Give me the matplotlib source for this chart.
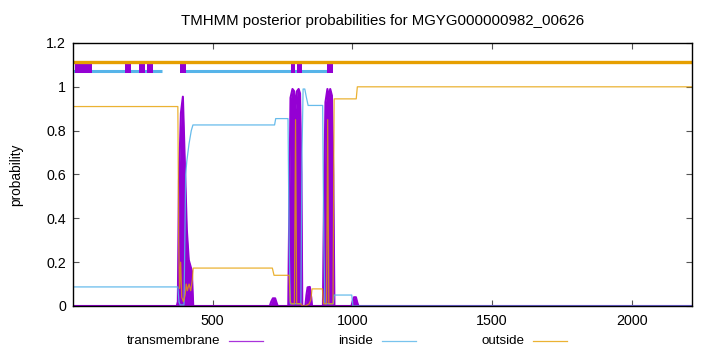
import matplotlib
matplotlib.use("Agg")
import matplotlib.pyplot as plt
from matplotlib.lines import Line2D

plt.rcParams['font.family'] = ['Liberation Sans', 'DejaVu Sans']
plt.rcParams['font.size'] = 9.5

seq_len = 2215

# posterior probabilities (residue, probability)
tm_x = [1, 372, 376, 380, 387, 394, 401, 408, 415, 426, 431,
        705, 710, 716, 724, 729, 733,
        771, 775, 779, 786, 792, 797, 802, 808, 813, 818, 821,
        832, 836, 840, 848, 853, 856,
        895, 899, 904, 911, 916, 921, 927, 932, 936,
        997, 1001, 1006, 1013, 1018, 1022, seq_len]
tm_y = [0, 0, 0.02, 0.57, 0.88, 0.955, 0.65, 0.35, 0.21, 0.16, 0,
        0, 0.02, 0.035, 0.035, 0.015, 0,
        0, 0.5, 0.95, 0.99, 0.98, 0.9, 0.98, 0.99, 0.97, 0.6, 0,
        0, 0.05, 0.085, 0.087, 0.04, 0,
        0, 0.5, 0.93, 0.99, 0.95, 0.99, 0.96, 0.6, 0,
        0, 0.02, 0.04, 0.04, 0.015, 0, 0]

in_x = [1, 376, 380, 384, 398, 401, 404, 408, 416, 424, 430,
        722, 726, 770, 774, 778, 816, 820, 824, 830, 836, 842,
        894, 898, 902, 932, 935, 998, 1002, seq_len]
in_y = [0.087, 0.087, 0.02, 0.005, 0.005, 0.3, 0.6, 0.66, 0.74, 0.8, 0.826,
        0.826, 0.855, 0.855, 0.3, 0.01, 0.01, 0.7, 0.99, 0.99, 0.95, 0.915,
        0.915, 0.3, 0.01, 0.01, 0.05, 0.05, 0.0, 0.0]

out_x = [1, 376, 379, 382, 386, 390, 396, 402, 406, 410, 416, 422, 428, 431,
         714, 720, 774, 778, 782, 793, 797, 801, 816, 822, 832, 846, 852, 856,
         893, 897, 908, 912, 916, 931, 935, 1014, 1018, seq_len]
out_y = [0.91, 0.91, 0.3, 0.08, 0.2, 0.04, 0.02, 0.05, 0.1, 0.07, 0.1, 0.07, 0.12, 0.173,
         0.173, 0.14, 0.14, 0.02, 0.01, 0.01, 0.85, 0.01, 0.01, 0.0, 0.0, 0.01, 0.03, 0.078,
         0.078, 0.01, 0.01, 0.85, 0.01, 0.01, 0.945, 0.945, 1.0, 1.0]

# predicted topology bars on top
tm_segments = [(7, 68), (186, 208), (236, 258), (265, 286), (383, 404),
               (780, 795), (802, 820), (909, 931)]
in_segments = [(1, 319), (401, 909)]
out_segments = [(1, seq_len)]

purple = '#9400d3'
blue = '#56b4e9'
orange = '#e69f00'

fig = plt.figure(figsize=(7.2, 3.52), dpi=100)
ax = fig.add_axes([0.1014, 0.1307, 0.8597, 0.7472])

ax.fill_between(tm_x, 0, tm_y, color=purple, lw=0, zorder=2)
ax.plot(tm_x, tm_y, color=purple, lw=1.5, zorder=2)
ax.plot(in_x, in_y, color=blue, lw=0.9, alpha=0.9, zorder=3)
ax.plot(out_x, out_y, color=orange, lw=0.9, alpha=0.8, zorder=3)

for a, b in in_segments:
    ax.hlines(1.072, a, b, color=blue, lw=2.2, capstyle='butt', zorder=4)
for a, b in tm_segments:
    ax.hlines(1.088, a, b, color=purple, lw=7.2, capstyle='butt', zorder=5)
for a, b in out_segments:
    ax.hlines(1.112, a, b, color=orange, lw=2.4, capstyle='butt', zorder=6)

ax.set_xlim(1, seq_len)
ax.set_ylim(0, 1.2)
ax.set_xticks([500, 1000, 1500, 2000])
ax.set_yticks([0, 0.2, 0.4, 0.6, 0.8, 1.0, 1.2])
ax.set_yticklabels(['0', '0.2', '0.4', '0.6', '0.8', '1', '1.2'])
ax.tick_params(direction='in', length=4, width=0.8, color='#555555',
               top=True, right=True, labelsize=10.3)
ax.tick_params(axis='x', pad=6)
ax.tick_params(axis='y', pad=5)
for s in ax.spines.values():
    s.set_linewidth(1.0)
    s.set_zorder(7)

ax.set_ylabel('probability', fontsize=9.8)
ax.yaxis.set_label_coords(-0.08, 0.5)
fig.text(382.5 / 720, 1 - 21 / 352,
         'TMHMM posterior probabilities for MGYG000000982_00626',
         ha='center', va='center', fontsize=10.8)

# legend row below the axes, gnuplot style (text then sample line)
names = ['transmembrane', 'inside', 'outside']
colors = [purple, blue, orange]
text_right = [220, 373, 524]
for name, col, xr in zip(names, colors, text_right):
    fig.text(xr / 720, 1 - 341 / 352, name, ha='right', va='center', fontsize=9.6)
    fig.add_artist(Line2D([(xr + 9) / 720, (xr + 43) / 720],
                          [1 - 341 / 352, 1 - 341 / 352],
                          color=col, lw=0.9, alpha=0.8))

fig.savefig('out.png', dpi=100)
